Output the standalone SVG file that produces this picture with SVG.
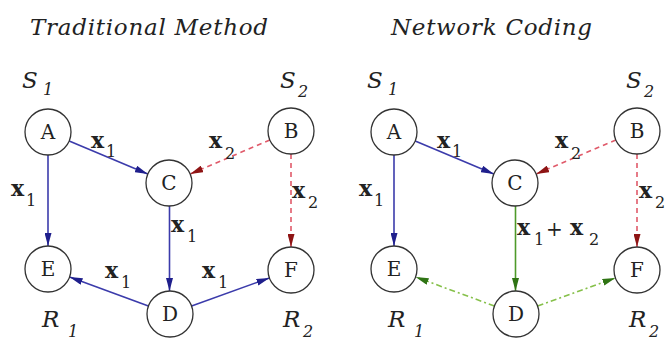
<svg xmlns="http://www.w3.org/2000/svg" width="668" height="340" viewBox="0 0 668 340">
<defs>
<marker id="ab" markerUnits="userSpaceOnUse" markerWidth="13" markerHeight="7" refX="13" refY="3.5" orient="auto"><path d="M0,0 L13,3.5 L0,7 z" fill="#1f1f8c"/></marker>
<marker id="ar" markerUnits="userSpaceOnUse" markerWidth="13" markerHeight="7" refX="13" refY="3.5" orient="auto"><path d="M0,0 L13,3.5 L0,7 z" fill="#8e1414"/></marker>
<marker id="ag" markerUnits="userSpaceOnUse" markerWidth="13" markerHeight="7" refX="13" refY="3.5" orient="auto"><path d="M0,0 L13,3.5 L0,7 z" fill="#2f7414"/></marker>
</defs>
<style>
text{font-family:'DejaVu Serif',serif;fill:#222}
.n circle{fill:#fff;stroke:#333;stroke-width:1.3}
.n text{font-size:20px;text-anchor:middle}
.title{font-style:italic;font-size:23px}
.it{font-style:italic;font-size:23px}
.its{font-style:italic;font-size:16px}
.x{font-weight:bold;font-size:22px}
.s{font-size:16px}
.p{font-size:20px}
.b{stroke:#3b3bab;stroke-width:1.6;fill:none;marker-end:url(#ab)}
.r{stroke:#e05a6a;stroke-width:1.6;fill:none;stroke-dasharray:5,4;marker-end:url(#ar)}
.g{stroke:#4e9a2a;stroke-width:1.6;fill:none;marker-end:url(#ag)}
.gd{stroke:#86c04a;stroke-width:1.6;fill:none;stroke-dasharray:6,3,2,3;marker-end:url(#ag)}
</style>
<rect width="668" height="340" fill="#fff"/>
<text class="title" x="30" y="35" textLength="238" lengthAdjust="spacing">Traditional Method</text>
<text class="title" x="391" y="35" textLength="201" lengthAdjust="spacing">Network Coding</text>

<g id="connectors">
<line class="b" x1="69.2" y1="140.9" x2="147.8" y2="174.1"/>
<line class="b" x1="48" y1="155" x2="48" y2="246"/>
<line class="r" x1="269.8" y1="140" x2="190.2" y2="174"/>
<line class="r" x1="291" y1="154" x2="291" y2="247"/>
<line class="b" x1="169.5" y1="206" x2="169.5" y2="291"/>
<line class="b" x1="148.4" y1="306" x2="69.6" y2="277"/>
<line class="b" x1="191.6" y1="306.1" x2="269.4" y2="277.9"/>

<line class="b" x1="415.2" y1="140.9" x2="493.8" y2="174.1"/>
<line class="b" x1="394" y1="155" x2="394" y2="246"/>
<line class="r" x1="615.8" y1="140" x2="536.2" y2="174"/>
<line class="r" x1="637" y1="154" x2="637" y2="247"/>
<line class="g" x1="515.5" y1="206" x2="515.5" y2="291"/>
<line class="gd" x1="494.4" y1="306" x2="415.6" y2="277"/>
<line class="gd" x1="537.6" y1="306.1" x2="615.4" y2="277.9"/>
</g>

<g id="edge-labels">
<text class="x" x="91" y="148">x</text><text class="s" x="106" y="157">1</text>
<text class="x" x="209" y="148">x</text><text class="s" x="225" y="159">2</text>
<text class="x" x="11" y="196">x</text><text class="s" x="26" y="206">1</text>
<text class="x" x="292" y="198">x</text><text class="s" x="308" y="208">2</text>
<text class="x" x="171" y="232">x</text><text class="s" x="187" y="242">1</text>
<text class="x" x="105" y="278">x</text><text class="s" x="121" y="288">1</text>
<text class="x" x="202" y="278">x</text><text class="s" x="218" y="288">1</text>

<text class="x" x="437" y="148">x</text><text class="s" x="452" y="157">1</text>
<text class="x" x="555" y="148">x</text><text class="s" x="571" y="159">2</text>
<text class="x" x="359" y="196">x</text><text class="s" x="374" y="206">1</text>
<text class="x" x="639" y="198">x</text><text class="s" x="655" y="208">2</text>
<text class="x" x="517" y="235">x</text><text class="s" x="534" y="245">1</text>
<text class="p" x="546" y="236">+</text>
<text class="x" x="570" y="235">x</text><text class="s" x="589" y="245">2</text>
</g>

<g id="nodes">
<g id="L_A" class="n"><circle cx="48" cy="132" r="23"/><text x="48" y="139">A</text></g>
<g id="L_B" class="n"><circle cx="291" cy="131" r="23"/><text x="291" y="138">B</text></g>
<g id="L_C" class="n"><circle cx="169" cy="183" r="23"/><text x="169" y="190">C</text></g>
<g id="L_D" class="n"><circle cx="170" cy="314" r="23"/><text x="170" y="321">D</text></g>
<g id="L_E" class="n"><circle cx="48" cy="269" r="23"/><text x="48" y="276">E</text></g>
<g id="L_F" class="n"><circle cx="291" cy="270" r="23"/><text x="291" y="277">F</text></g>

<g id="R_A" class="n"><circle cx="394" cy="132" r="23"/><text x="394" y="139">A</text></g>
<g id="R_B" class="n"><circle cx="637" cy="131" r="23"/><text x="637" y="138">B</text></g>
<g id="R_C" class="n"><circle cx="515" cy="183" r="23"/><text x="515" y="190">C</text></g>
<g id="R_D" class="n"><circle cx="516" cy="314" r="23"/><text x="516" y="321">D</text></g>
<g id="R_E" class="n"><circle cx="394" cy="269" r="23"/><text x="394" y="276">E</text></g>
<g id="R_F" class="n"><circle cx="637" cy="270" r="23"/><text x="637" y="277">F</text></g>
</g>

<g id="role-labels">
<text class="it" x="22" y="88">S</text><text class="its" x="43" y="95">1</text>
<text class="it" x="280" y="88">S</text><text class="its" x="298" y="97">2</text>
<text class="it" x="42" y="327">R</text><text class="its" x="68" y="337">1</text>
<text class="it" x="283" y="327">R</text><text class="its" x="303" y="337">2</text>

<text class="it" x="367" y="88">S</text><text class="its" x="388" y="95">1</text>
<text class="it" x="626" y="88">S</text><text class="its" x="644" y="97">2</text>
<text class="it" x="388" y="327">R</text><text class="its" x="414" y="337">1</text>
<text class="it" x="629" y="327">R</text><text class="its" x="649" y="337">2</text>
</g>
</svg>
